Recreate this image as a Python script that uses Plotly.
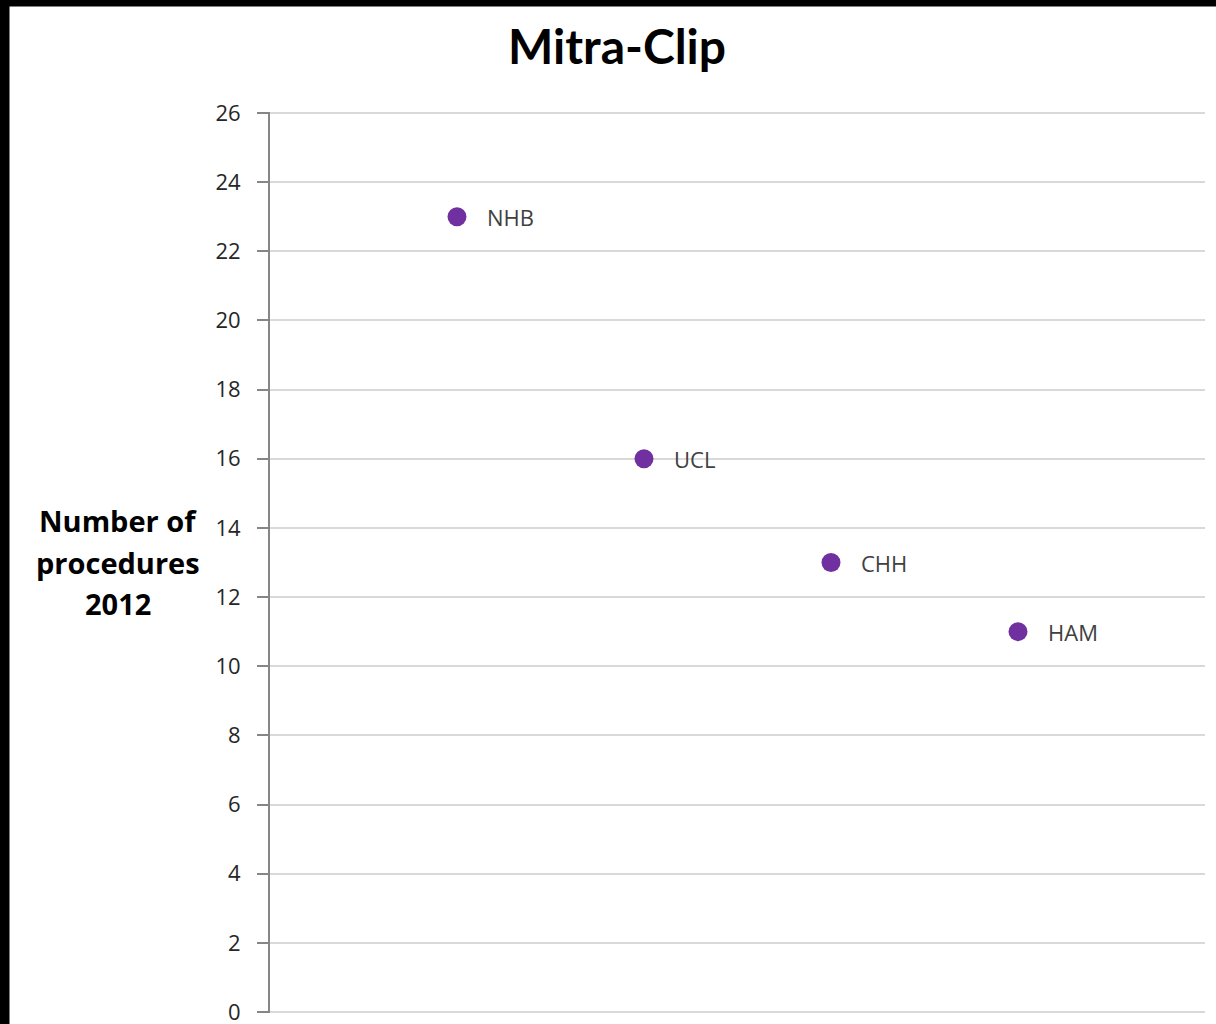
import plotly.graph_objects as go

# Data
hospitals = ["NHB", "UCL", "CHH", "HAM"]
x_index = [1, 2, 3, 4]
procedures_2012 = [23, 16, 13, 11]
y_ticks = list(range(0, 27, 2))
y_title_lines = ["Number of", "procedures", "2012"]

W, H = 1216, 1024
EPS = 0.03  # small padding so the 0 and 26 gridlines are drawn
PXU = 899 / 26.0
L, R = 270, 11
T = 113 - EPS * PXU
B = 12 - EPS * PXU
PW, PH = W - L - R, H - T - B

def px_x(px):
    return (px - L) / PW

def px_y(py):
    return (H - B - py) / PH

fig = go.Figure()
fig.add_trace(go.Scatter(
    x=x_index, y=procedures_2012,
    mode="markers",
    marker=dict(color="#7030A0", size=19),
    hoverinfo="skip",
    showlegend=False,
))

for xi, yi, name in zip(x_index, procedures_2012, hospitals):
    fig.add_annotation(
        x=xi, y=yi, xref="x", yref="y", text=name, showarrow=False,
        xanchor="left", yanchor="middle", xshift=28,
        font=dict(family="Open Sans", size=22, color="#404040"),
    )

# Title
fig.add_annotation(
    x=px_x(617), y=px_y(45), xref="paper", yref="paper",
    text="<b>Mitra-Clip</b>", showarrow=False,
    xanchor="center", yanchor="middle",
    font=dict(family="Lato", size=48, color="#000000"),
)

# Y-axis title (three lines, Excel-like spacing)
for line, cy in zip(y_title_lines, [520, 563, 604]):
    fig.add_annotation(
        x=px_x(118), y=px_y(cy), xref="paper", yref="paper",
        text="<b>" + line + "</b>", showarrow=False,
        xanchor="center", yanchor="middle",
        font=dict(family="Open Sans", size=29, color="#000000"),
    )

# Black border strips (part of the screenshot frame)
fig.add_shape(type="rect", xref="paper", yref="paper",
              x0=px_x(-5), x1=px_x(9.5), y0=px_y(1030), y1=px_y(-5),
              fillcolor="black", line=dict(width=0), layer="above")
fig.add_shape(type="rect", xref="paper", yref="paper",
              x0=px_x(-5), x1=px_x(1222), y0=px_y(6.5), y1=px_y(-5),
              fillcolor="black", line=dict(width=0), layer="above")

fig.update_xaxes(
    range=[0, 5], showgrid=False, zeroline=False, showline=False,
    showticklabels=False, ticks="", automargin=False,
)
fig.update_yaxes(
    range=[-EPS, 26 + EPS], tickvals=y_ticks, ticktext=[str(v) for v in y_ticks],
    showgrid=True, gridcolor="#d9d9d9", gridwidth=2,
    zeroline=True, zerolinecolor="#d9d9d9", zerolinewidth=2,
    showline=True, linecolor="#868686", linewidth=2,
    ticks="outside", ticklen=11, tickcolor="#868686", tickwidth=2,
    tickfont=dict(family="Open Sans", size=22, color="#262626"),
    ticklabelstandoff=12,
    ticklabeloverflow="allow",
    automargin=False,
)

fig.update_layout(
    width=W, height=H,
    margin=dict(l=L, r=R, t=T, b=B, autoexpand=False),
    paper_bgcolor="white", plot_bgcolor="white",
    showlegend=False,
)

fig.write_html(
    "out.html",
    config={"displayModeBar": False},
    post_script="document.body.style.margin='0';document.body.style.overflow='hidden';",
)
